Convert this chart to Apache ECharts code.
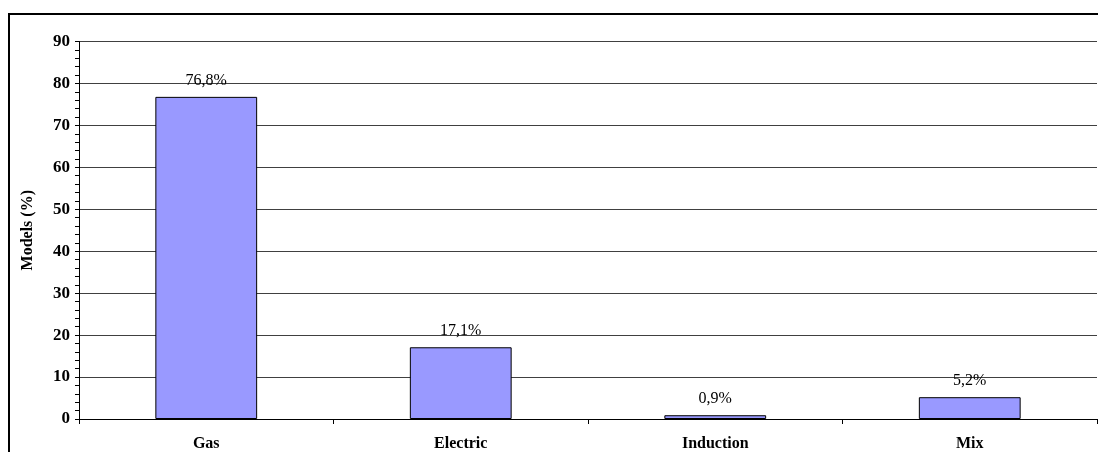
<!DOCTYPE html>
<html>
<head>
<meta charset="utf-8">
<script src="https://cdn.jsdelivr.net/npm/echarts@6/dist/echarts.min.js"></script>
<style>
html,body{margin:0;padding:0;background:#fff;}
#chart{width:1098px;height:452px;}
</style>
</head>
<body>
<div id="chart"></div>
<script>
var categories = ['Gas', 'Electric', 'Induction', 'Mix'];
var values = [76.8, 17.1, 0.9, 5.2];
var valueLabels = ['76,8%', '17,1%', '0,9%', '5,2%'];
var yTicks = [0, 10, 20, 30, 40, 50, 60, 70, 80, 90];

var FONT = '"Liberation Serif", "Times New Roman", serif';
var chart = echarts.init(document.getElementById('chart'));
chart.setOption({
  animation: false,
  backgroundColor: '#fff',
  grid: { left: 79, top: 41.5, width: 1018, bottom: 32.5, containLabel: false },
  graphic: [{
    type: 'rect',
    shape: { x: 9, y: 14, width: 2000, height: 1000 },
    style: { fill: 'none', stroke: '#000', lineWidth: 2 },
    silent: true
  }],
  xAxis: {
    type: 'category',
    data: categories,
    boundaryGap: true,
    axisLine: { show: true, lineStyle: { color: '#000', width: 1 } },
    axisTick: { show: true, length: 5, inside: false, alignWithLabel: false, lineStyle: { color: '#000' } },
    axisLabel: { margin: 17, fontFamily: FONT, fontWeight: 'bold', fontSize: 16, color: '#000' },
    splitLine: { show: false }
  },
  yAxis: {
    type: 'value',
    min: yTicks[0],
    max: yTicks[yTicks.length - 1],
    interval: 10,
    name: 'Models (%)',
    nameLocation: 'middle',
    nameRotate: 90,
    nameGap: 43,
    nameTextStyle: { fontFamily: FONT, fontWeight: 'bold', fontSize: 16, color: '#000' },
    axisLine: { show: true, lineStyle: { color: '#000', width: 1 } },
    axisTick: { show: true, length: 4, lineStyle: { color: '#000' } },
    minorTick: { show: true, splitNumber: 5, length: 4, lineStyle: { color: '#000' } },
    axisLabel: { margin: 9, fontFamily: FONT, fontWeight: 'bold', fontSize: 17, color: '#000' },
    splitLine: { show: true, lineStyle: { color: '#404040', width: 1 } }
  },
  series: [{
    type: 'bar',
    data: values,
    barWidth: '40%',
    itemStyle: { color: '#9999FF', borderColor: '#000', borderWidth: 1 },
    label: {
      show: true,
      position: 'top',
      distance: 8,
      fontFamily: FONT,
      fontSize: 16,
      color: '#000',
      formatter: function (p) { return valueLabels[p.dataIndex]; }
    }
  }]
});
</script>
</body>
</html>
